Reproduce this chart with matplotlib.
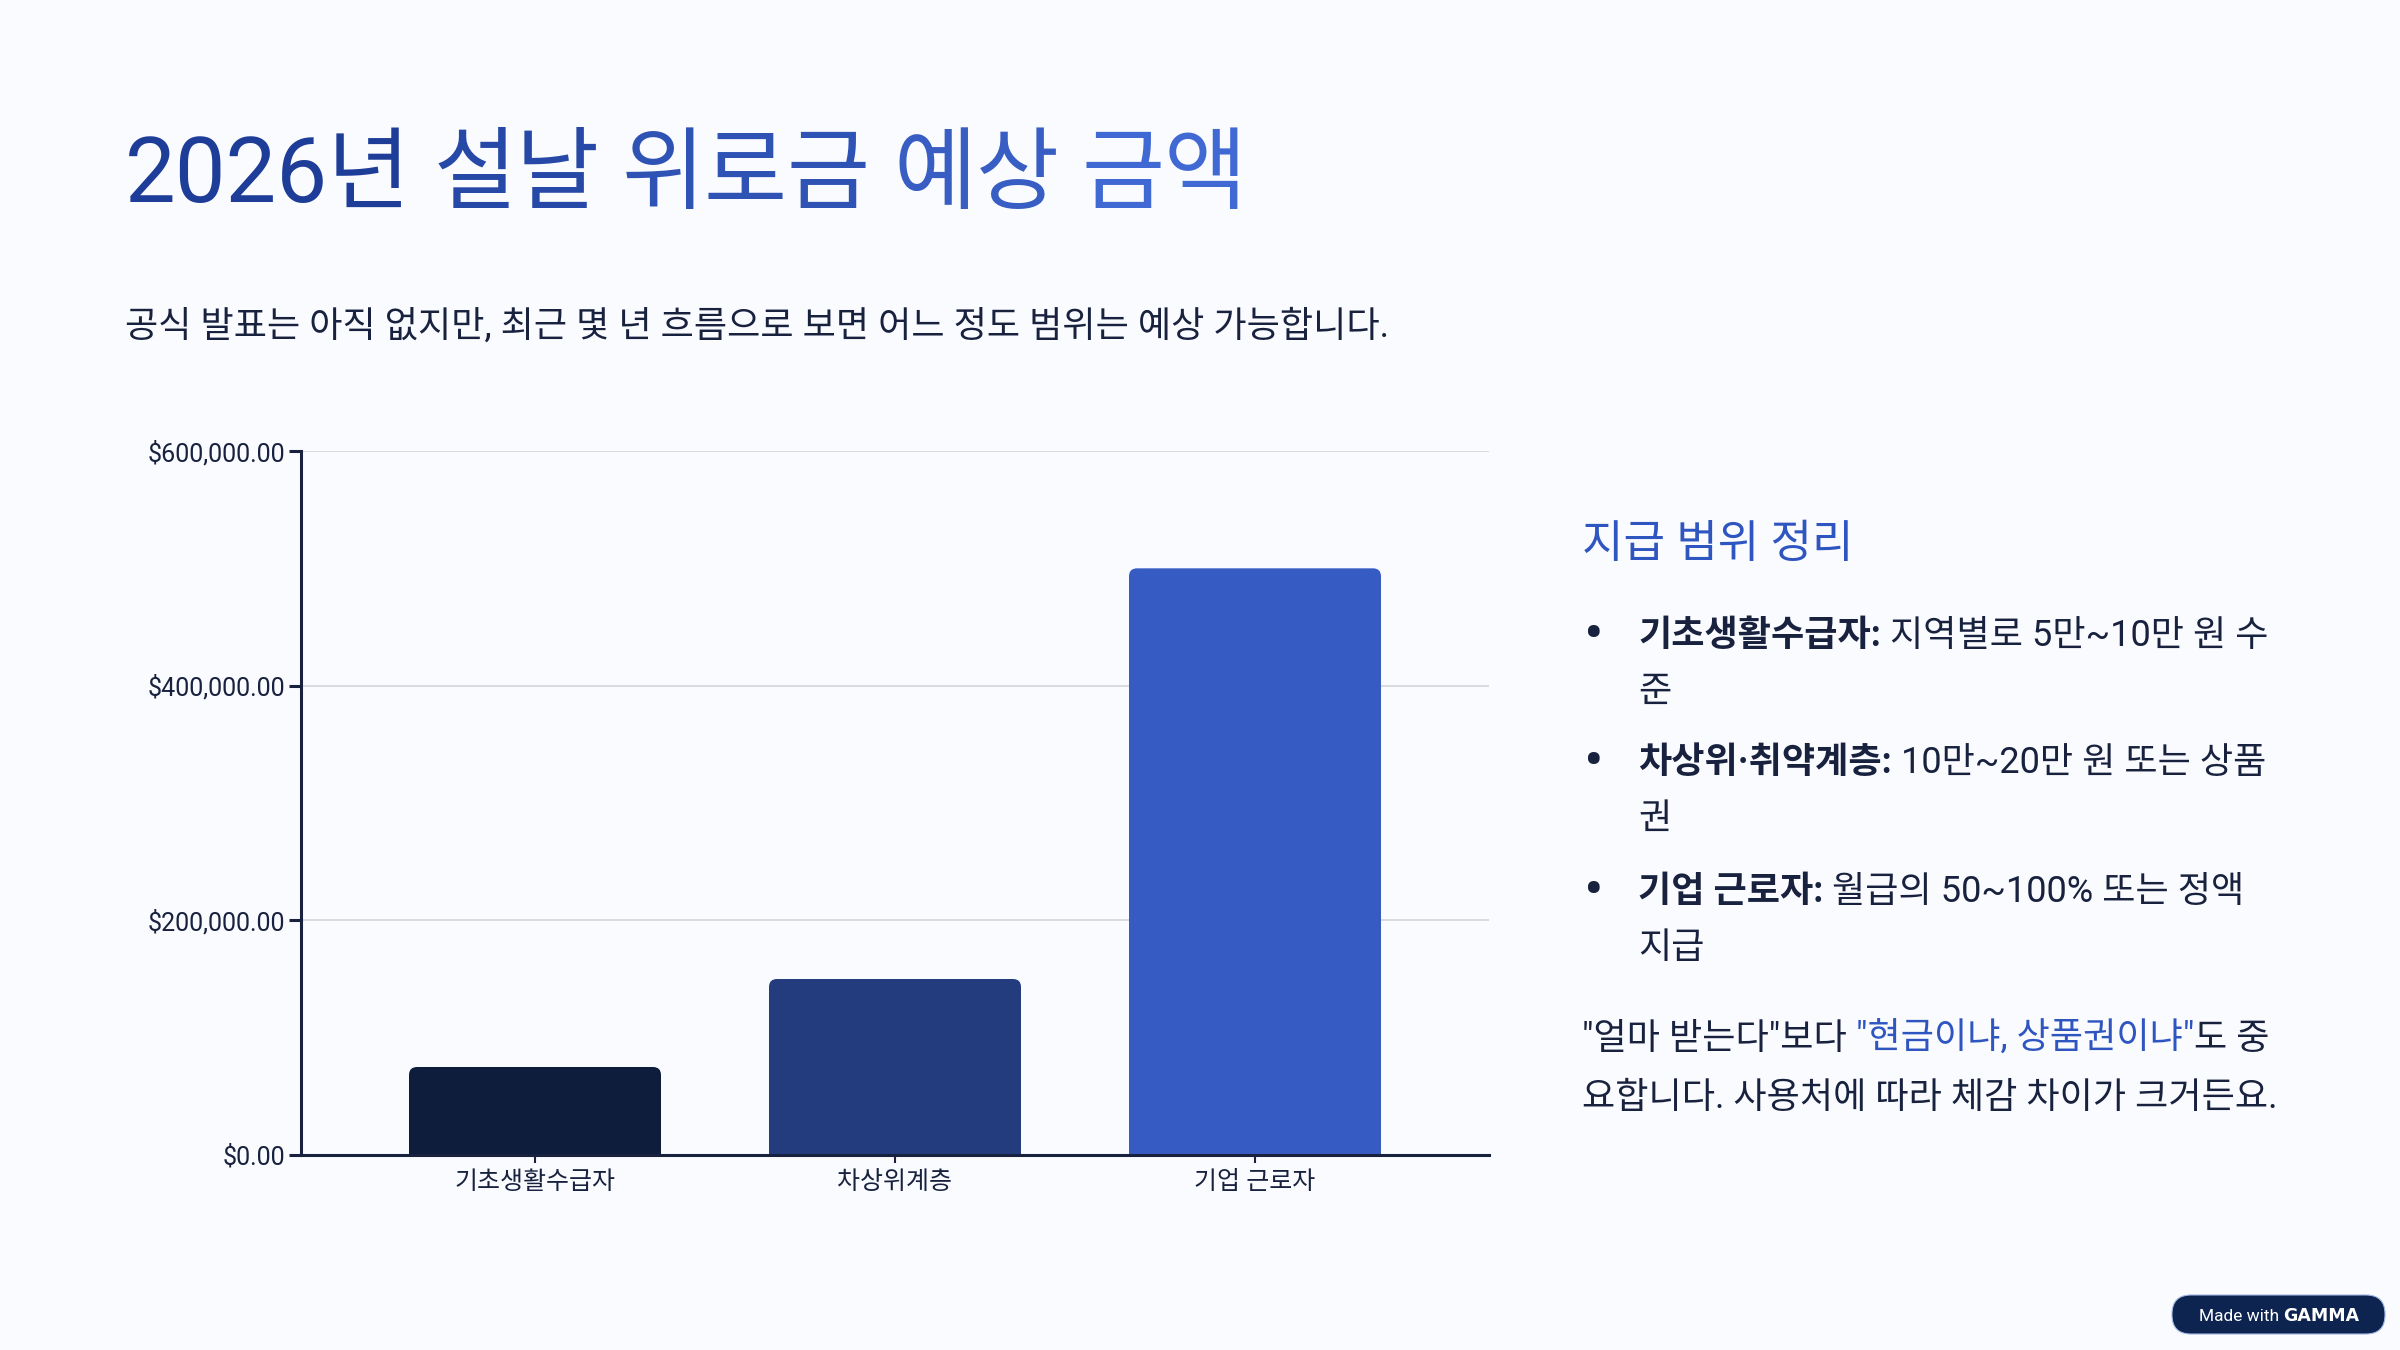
import matplotlib
matplotlib.use("Agg")
import matplotlib.pyplot as plt
from matplotlib.patches import FancyBboxPatch
from matplotlib.colors import to_rgb
import numpy as np

# 데이터
categories = ["기초생활수급자", "차상위계층", "기업 근로자"]
amounts = [75000, 150000, 500000]
bar_colors = ["#0f1d3c", "#233c7e", "#365cc4"]
y_ticks = [0, 200000, 400000, 600000]

title_words = ["2026년", "설날", "위로금", "예상", "금액"]
subtitle = "공식 발표는 아직 없지만, 최근 몇 년 흐름으로 보면 어느 정도 범위는 예상 가능합니다."
panel_title = "지급 범위 정리"
bullets = [
    ("기초생활수급자:", "지역별로 5만~10만 원 수", "준"),
    ("차상위·취약계층:", "10만~20만 원 또는 상품", "권"),
    ("기업 근로자:", "월급의 50~100% 또는 정액", "지급"),
]
note_1 = ['"얼마 받는다"보다', '"현금이냐, 상품권이냐"', "도 중"]
note_2 = "요합니다. 사용처에 따라 체감 차이가 크거든요."

BG = "#fafbfe"
NAVY = "#18223f"
BLUE = "#2f55c0"

plt.rcParams["font.family"] = ["Roboto", "Noto Sans CJK KR"]

W, H = 2400, 1350
fig = plt.figure(figsize=(24, 13.5), dpi=100, facecolor=BG)
renderer = fig.canvas.get_renderer()


def fx(px):
    return px / W


def fy(py):
    return 1 - py / H


def space_w(size, weight="normal"):
    a = fig.text(0, 0, "가 가", fontsize=size, fontweight=weight)
    b = fig.text(0, 0, "가가", fontsize=size, fontweight=weight)
    w = a.get_window_extent(renderer).width - b.get_window_extent(renderer).width
    a.remove()
    b.remove()
    return w


def draw_runs(x_px, y_px, runs, size, family=None):
    # runs: (텍스트, 굵기, 색) - " " 는 공백
    x = x_px
    for i, (txt, weight, color) in enumerate(runs):
        if txt == " ":
            x += space_w(size, weight)
            continue
        kw = {}
        if family is not None and family[i] is not None:
            kw["family"] = family[i]
        t = fig.text(fx(x), fy(y_px), txt, fontsize=size, fontweight=weight,
                     color=color, va="baseline", **kw)
        x = t.get_window_extent(renderer).x1
    return x


# 제목 (그라데이션 느낌으로 단어별 색)
c0 = np.array(to_rgb("#1d3d98"))
c1 = np.array(to_rgb("#4169d3"))
runs = []
for i, w in enumerate(title_words):
    f = i / (len(title_words) - 1)
    runs.append((w, "normal", tuple(c0 + (c1 - c0) * f)))
    if i < len(title_words) - 1:
        runs.append((" ", "normal", None))
draw_runs(125, 202, runs, 65)

fig.text(fx(125), fy(337), subtitle, fontsize=26, color=NAVY, va="baseline")

# 막대 그래프
ax = fig.add_axes([fx(301), fy(1155), fx(1489) - fx(301), (1155 - 451) / H])
ax.set_facecolor(BG)
x = np.arange(len(categories))
bars = ax.bar(x, amounts, width=0.7, color=bar_colors, zorder=2)
ax.set_xlim(-0.65, 2.65)
ax.set_ylim(0, 600000)
ax.set_yticks(y_ticks)
ax.set_yticklabels(["${:,.2f}".format(v) for v in y_ticks])
ax.set_xticks(x)
ax.set_xticklabels(categories)

ax.grid(axis="y", color="#cfd1d8", lw=1.1)
ax.set_axisbelow(True)
for s in ["top", "right"]:
    ax.spines[s].set_visible(False)
for s in ["left", "bottom"]:
    ax.spines[s].set_color(NAVY)
    ax.spines[s].set_linewidth(2.2)
ax.tick_params(axis="y", length=8.5, width=2.2, color=NAVY, labelsize=18,
               labelcolor=NAVY, pad=3)
ax.tick_params(axis="x", length=6, width=1.5, color=NAVY, labelsize=18,
               labelcolor=NAVY, pad=5)

# 위쪽 모서리 둥글게
xr = ax.get_xlim()[1] - ax.get_xlim()[0]
yr = ax.get_ylim()[1] - ax.get_ylim()[0]
px_x = ax.bbox.width / xr
px_y = ax.bbox.height / yr
aspect = px_x / px_y
r = 8 / px_x
for rect in bars:
    p = FancyBboxPatch((rect.get_x(), -r * aspect), rect.get_width(),
                       rect.get_height() + r * aspect,
                       boxstyle="round,pad=0,rounding_size=%f" % r,
                       mutation_aspect=aspect, fc=rect.get_facecolor(),
                       ec="none", zorder=2)
    ax.add_patch(p)
    rect.set_visible(False)

# 오른쪽 설명
fig.text(fx(1582), fy(557), panel_title, fontsize=32.5, color=BLUE, va="baseline")

base = [646, 773, 902]
for (head, body, tail), yb in zip(bullets, base):
    fig.text(fx(1594), fy(yb + 6), "•", fontsize=42, color=NAVY, ha="center",
             va="baseline")
    draw_runs(1638, yb, [(head, "bold", NAVY), (" ", "normal", None),
                         (body, "normal", NAVY)], 26)
    fig.text(fx(1638), fy(yb + 56), tail, fontsize=26, color=NAVY, va="baseline")

draw_runs(1582, 1049, [(note_1[0], "normal", NAVY), (" ", "normal", None),
                       (note_1[1], "normal", BLUE), (note_1[2], "normal", NAVY)], 26)
fig.text(fx(1582), fy(1108), note_2, fontsize=26, color=NAVY, va="baseline")

# Made with GAMMA 배지
badge = FancyBboxPatch((fx(2172), fy(1334)), fx(213), 39 / H,
                       boxstyle="round,pad=0,rounding_size=%f" % (19 / W),
                       mutation_aspect=W / H, transform=fig.transFigure,
                       fc="#0d2350", ec="#9fb6e6", lw=0.8)
fig.add_artist(badge)
draw_runs(2199, 1321, [("Made with", "normal", "white"), (" ", "normal", None),
                       ("GAMMA", "bold", "white")], 12.5,
          family=[None, None, "DejaVu Sans"])

fig.savefig("out.png", dpi=100, facecolor=BG)
